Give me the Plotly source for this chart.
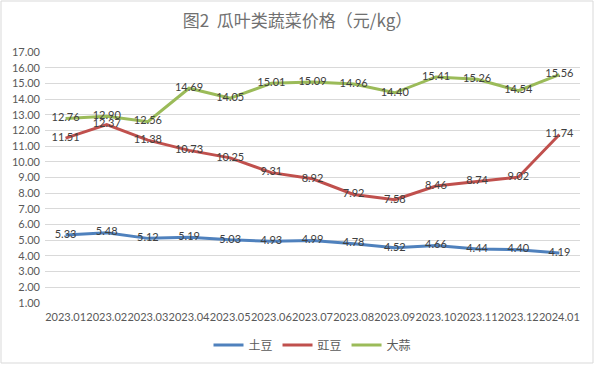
import plotly.graph_objects as go

months = ["2023.01", "2023.02", "2023.03", "2023.04", "2023.05", "2023.06", "2023.07",
          "2023.08", "2023.09", "2023.10", "2023.11", "2023.12", "2024.01"]
potato = [5.33, 5.48, 5.12, 5.19, 5.03, 4.93, 4.99, 4.78, 4.52, 4.66, 4.44, 4.40, 4.19]
cowpea = [11.51, 12.37, 11.38, 10.73, 10.25, 9.31, 8.92, 7.92, 7.58, 8.46, 8.74, 9.02, 11.74]
garlic = [12.76, 12.90, 12.56, 14.69, 14.05, 15.01, 15.09, 14.96, 14.40, 15.41, 15.26, 14.54, 15.56]
series_names = ["土豆", "豇豆", "大蒜"]
colors = ["#4F81BD", "#C0504D", "#9BBB59"]
yticks = [1 + i for i in range(17)]

FONT = "Lato, Noto Sans CJK SC, sans-serif"

fig = go.Figure()
for name, vals, c in zip(series_names, [potato, cowpea, garlic], colors):
    fig.add_trace(go.Scatter(
        x=months, y=vals, name=name, mode="lines+text",
        line=dict(color=c, width=3),
        text=[f"{v:.2f}" for v in vals], textposition="middle center",
        textfont=dict(color="#404040", size=11, family=FONT),
        cliponaxis=False,
    ))

W, H = 595, 366
ml, mr, mt, mb = 45, 15, 52, 63
pw, ph = W - ml - mr, H - mt - mb
fig.update_layout(
    width=W, height=H,
    margin=dict(l=ml, r=mr, t=mt, b=mb, autoexpand=False),
    paper_bgcolor="white", plot_bgcolor="white",
    font=dict(family=FONT, color="#595959", size=11),
    title=dict(text="图2  瓜叶类蔬菜价格（元/kg）", x=0.5, xanchor="center", y=0.943, yanchor="middle",
               font=dict(size=17, color="#707070", family="Noto Sans CJK SC, sans-serif")),
    showlegend=True,
    legend=dict(orientation="h", x=0.5, xanchor="center", y=-0.11, yanchor="top",
                font=dict(size=12, color="#595959", family="Noto Sans CJK SC, sans-serif"),
                itemwidth=30, tracegroupgap=0),
    xaxis=dict(type="category", range=[-0.5, 12.5], showgrid=False, zeroline=False, showline=False,
               automargin=False, ticks="", ticklabelstandoff=6,
               tickfont=dict(size=11, color="#595959"), tickangle=0),
    yaxis=dict(range=[1, 17], tickvals=yticks, tickformat=".2f", showgrid=True,
               automargin=False,
               gridcolor="#D9D9D9", gridwidth=1, zeroline=False, showline=False,
               ticks="", ticklabelstandoff=4, tickfont=dict(size=11, color="#595959")),
    shapes=[dict(type="rect", xref="paper", yref="paper",
                 x0=(1 - ml) / pw, x1=(W - 2 - ml) / pw,
                 y0=-(mb - 3) / ph, y1=(ph + mt - 1) / ph,
                 line=dict(color="#D9D9D9", width=1))],
)
fig.write_html("out.html", config={"displayModeBar": False},
               post_script="document.body.style.margin='0';document.body.style.overflow='hidden';")
